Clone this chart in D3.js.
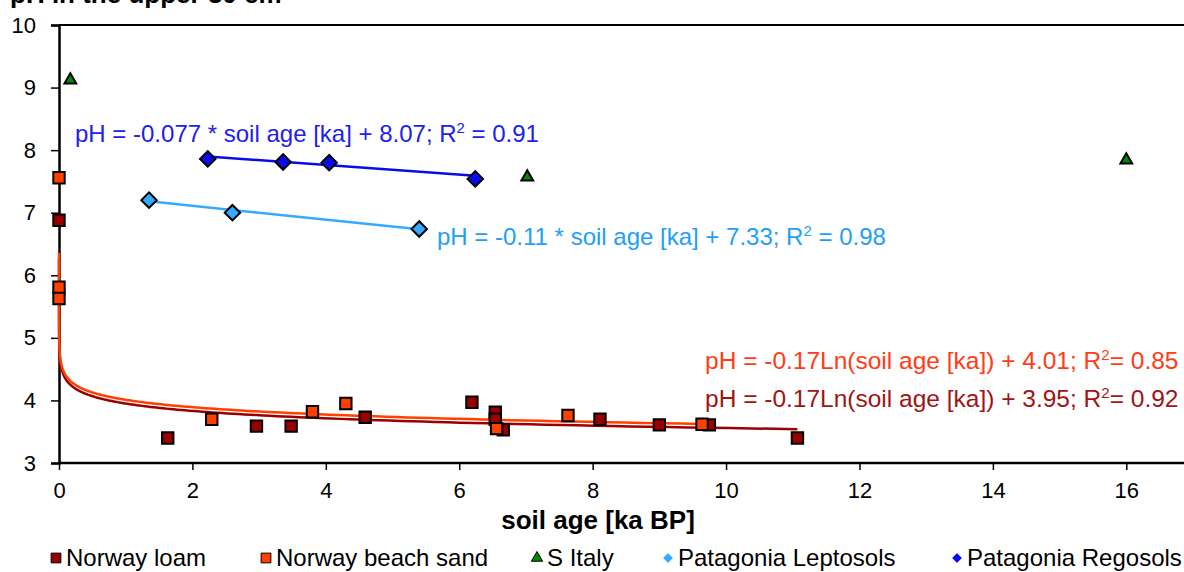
<!DOCTYPE html>
<html><head><meta charset="utf-8">
<script src="https://cdn.jsdelivr.net/npm/d3@7"></script>
<style>body{margin:0;background:#fff}svg{display:block;font-family:"Liberation Sans",Arial,sans-serif}</style>
</head><body><svg id="c" width="1184" height="572"></svg>
<script>
// ---- data ----
const xTicks = [0,2,4,6,8,10,12,14,16];
const yTicks = [3,4,5,6,7,8,9,10];
const norwayLoamX = [0, 1.63, 2.96, 3.48, 4.59, 6.19, 6.54, 6.54, 6.66, 8.11, 9.0, 9.75, 11.07];
const norwayLoamY = [6.88, 3.40, 3.59, 3.59, 3.73, 3.97, 3.81, 3.70, 3.53, 3.70, 3.61, 3.61, 3.40];
const norwaySandX = [0, 0, 0, 2.29, 3.80, 4.30, 6.56, 7.63, 9.64];
const norwaySandY = [7.56, 5.81, 5.63, 3.70, 3.82, 3.95, 3.55, 3.76, 3.62];
const sItalyX = [0.17, 7.02, 16.0];
const sItalyY = [9.12, 7.57, 7.84];
const leptoX = [1.35, 2.60, 5.40];
const leptoY = [7.20, 7.00, 6.74];
const regoX = [2.23, 3.36, 4.05, 6.24];
const regoY = [7.86, 7.81, 7.80, 7.54];
// trendline coefficients [slope, intercept]
const sandFit = [-0.17, 4.01], loamFit = [-0.17, 3.95];
const leptoFit = [-0.11, 7.33], regoFit = [-0.077, 8.07];
const legendLabels = ["Norway loam","Norway beach sand","S Italy","Patagonia Leptosols","Patagonia Regosols"];

const C = {loam:"#9b0000", sand:"#ff4000", italy:"#008a00", lepto:"#33aaff", rego:"#0a0aef",
           loamText:"#a01414", sandText:"#ff3c14", leptoText:"#1ea0f5", regoText:"#2020f0"};
const FONT = "Liberation Sans, Arial, sans-serif";

const svg = d3.select("#c");
const x = d3.scaleLinear().domain([0,17]).range([59, 1193]);
const y = d3.scaleLinear().domain([3,10]).range([463, 25]);

// title (clipped at top, as in the reference)
svg.append("text").attr("x",10).attr("y",3).attr("font-weight","bold").attr("font-size",26)
  .text("pH in the upper 30 cm");

// frame: top line
svg.append("line").attr("x1",x(0)).attr("x2",1184).attr("y1",y(10)).attr("y2",y(10))
  .attr("stroke","#000").attr("stroke-width",2);

// axes
const yAxis = d3.axisLeft(y).tickValues(yTicks).tickSize(8).tickPadding(15).tickFormat(d3.format("d"));
const gy = svg.append("g").attr("transform",`translate(${x(0)},0)`).call(yAxis);
const xAxis = d3.axisBottom(x).tickValues(xTicks).tickSize(7).tickPadding(12).tickFormat(d3.format("d"));
const gx = svg.append("g").attr("transform",`translate(0,${y(3)})`).call(xAxis);
[gx,gy].forEach(g=>{
  g.select(".domain").attr("stroke","#000").attr("stroke-width",2.5);
  g.selectAll(".tick line").attr("stroke","#000").attr("stroke-width",1.5);
  g.selectAll(".tick text").attr("font-size",22).attr("fill","#000").attr("font-family",FONT);
});
gx.select(".domain").attr("d",`M${x(0)},0H1184`);

// x title
svg.append("text").attr("x",598).attr("y",529).attr("text-anchor","middle")
  .attr("font-weight","bold").attr("font-size",26).text("soil age [ka BP]");

// trendlines
const lnLine = (fit, x0, x1) => {
  const xs = d3.range(0, 500).map(i => x0 * Math.pow(x1/x0, i/499));
  return d3.line().x(d=>x(d)).y(d=>y(fit[0]*Math.log(d)+fit[1]))(xs);
};
svg.append("path").attr("d", lnLine(loamFit, 1.2e-6, d3.max(norwayLoamX))).attr("fill","none")
  .attr("stroke",C.loam).attr("stroke-width",2.5);
svg.append("path").attr("d", lnLine(sandFit, 1e-6, d3.max(norwaySandX))).attr("fill","none")
  .attr("stroke",C.sand).attr("stroke-width",2.5);
const linLine = (fit, xs) => d3.line().x(d=>x(d)).y(d=>y(fit[0]*d+fit[1]))([d3.min(xs), d3.max(xs)]);
svg.append("path").attr("d", linLine(leptoFit, leptoX)).attr("stroke",C.lepto).attr("stroke-width",2.5).attr("fill","none");
svg.append("path").attr("d", linLine(regoFit, regoX)).attr("stroke",C.rego).attr("stroke-width",2.5).attr("fill","none");

// markers
const sym = (type,size) => d3.symbol().type(type).size(size)();
function drawPts(xs, ys, type, size, fill, rot) {
  svg.append("g").selectAll("path").data(xs.map((v,i)=>[v,ys[i]])).join("path")
    .attr("d", sym(type,size)).attr("transform", d=>`translate(${x(d[0])},${y(d[1])}) rotate(${rot||0})`)
    .attr("fill",fill).attr("stroke","#000").attr("stroke-width",2);
}
drawPts(norwayLoamX, norwayLoamY, d3.symbolSquare, 130, C.loam);
drawPts(norwaySandX, norwaySandY, d3.symbolSquare, 130, C.sand);
drawPts(sItalyX, sItalyY, d3.symbolTriangle, 60, C.italy);
drawPts(leptoX, leptoY, d3.symbolSquare, 120, C.lepto, 45);
drawPts(regoX, regoY, d3.symbolSquare, 120, C.rego, 45);

// equation labels
function eq(xp, yp, color, fs, pre, post) {
  const t = svg.append("text").attr("x",xp).attr("y",yp).attr("fill",color).attr("font-size",fs);
  t.append("tspan").text(pre + "R");
  t.append("tspan").attr("font-size",15).attr("dy",-9).text("2");
  t.append("tspan").attr("dy",9).text(post);
}
eq(75, 142, C.regoText, 24, "pH = -0.077 * soil age [ka] + 8.07; ", " = 0.91");
eq(437, 245, C.leptoText, 24, "pH = -0.11 * soil age [ka] + 7.33; ", " = 0.98");
eq(705, 369, C.sandText, 24.5, "pH = -0.17Ln(soil age [ka]) + 4.01; ", "= 0.85");
eq(705, 407, C.loamText, 24.5, "pH = -0.17Ln(soil age [ka]) + 3.95; ", "= 0.92");

// legend
const legX = [56, 266, 537, 668, 957];
const legType = [d3.symbolSquare, d3.symbolSquare, d3.symbolTriangle, d3.symbolSquare, d3.symbolSquare];
const legSize = [95, 95, 55, 55, 55];
const legRot = [0,0,0,45,45];
const legFill = [C.loam, C.sand, C.italy, C.lepto, C.rego];
const lg = svg.append("g");
legendLabels.forEach((lab,i)=>{
  lg.append("path").attr("d", sym(legType[i], legSize[i]))
    .attr("transform",`translate(${legX[i]},558) rotate(${legRot[i]})`)
    .attr("fill",legFill[i]).attr("stroke", i>=3 ? "#fff" : "#000").attr("stroke-width", i>=3?0.6:1);
  lg.append("text").attr("x", legX[i] + 10).attr("y",566).attr("font-size",24).text(lab);
});
</script></body></html>
